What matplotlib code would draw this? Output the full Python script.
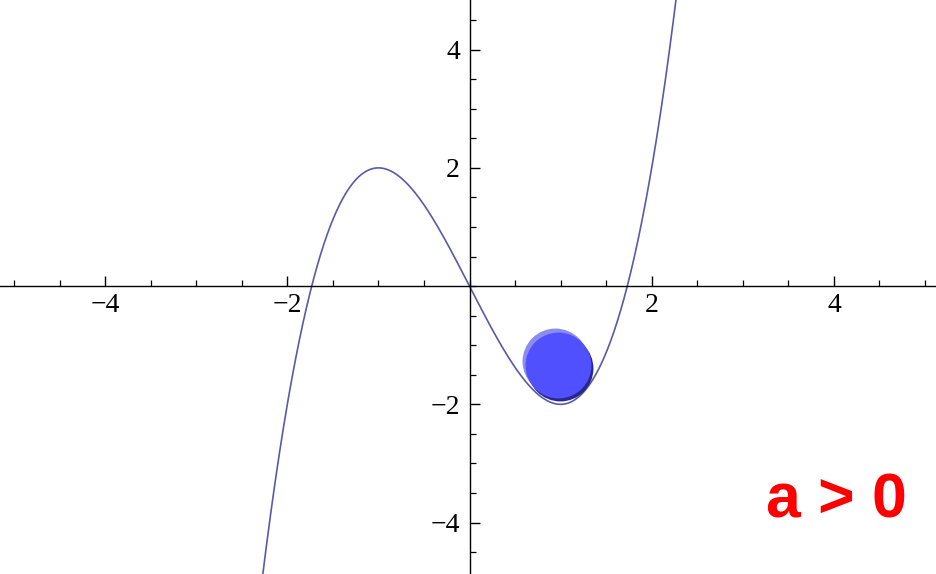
import numpy as np
import matplotlib
matplotlib.use("Agg")
import matplotlib.pyplot as plt
import matplotlib.transforms as mtransforms
from matplotlib.ticker import MultipleLocator, FixedLocator

# Data
poly_coeffs = [1.0, 0.0, -3.0, 0.0]   # y = x^3 - 3x
x_range = (-5.154, 5.132)
y_range = (-4.87, 4.84)
x_major = [-4, -2, 2, 4]
y_major = [-4, -2, 2, 4]
x_ticklabels = ["\u22124", "\u22122", "2", "4"]
y_ticklabels = ["\u22124", "\u22122", "2", "4"]
ball_x = 0.97
ball_y = -1.34
label_text = "a > 0"

fig = plt.figure(figsize=(9.37, 5.74), dpi=100)
ax = fig.add_axes([0, 0, 1, 1])

xs = np.linspace(x_range[0], x_range[1], 2000)
ys = np.polyval(poly_coeffs, xs)
ax.plot(xs, ys, color="#5a5aa6", lw=1.2, zorder=2, clip_on=True)

ax.set_xlim(*x_range)
ax.set_ylim(*y_range)

for s in ["top", "right"]:
    ax.spines[s].set_visible(False)
ax.spines["left"].set_position(("data", 0))
ax.spines["bottom"].set_position(("data", 0))
for s in ["left", "bottom"]:
    ax.spines[s].set_linewidth(1.0)
    ax.spines[s].set_color("black")

ax.xaxis.set_major_locator(FixedLocator(x_major))
ax.yaxis.set_major_locator(FixedLocator(y_major))
ax.set_xticklabels(x_ticklabels)
ax.set_yticklabels(y_ticklabels)
ax.xaxis.set_minor_locator(MultipleLocator(0.5))
ax.yaxis.set_minor_locator(MultipleLocator(0.5))

ax.tick_params(axis="both", which="major", direction="in", length=7, width=1.0,
               labelsize=20, colors="black")
ax.tick_params(axis="both", which="minor", direction="in", length=4.5, width=0.9)
ax.tick_params(axis="x", which="major", pad=5)
ax.tick_params(axis="y", which="major", pad=7)
for lab in ax.get_xticklabels() + ax.get_yticklabels():
    lab.set_fontfamily("Liberation Serif")

# Ball: highlight, shadow, body
s_ball = 2250
hl = ax.transData + mtransforms.ScaledTranslation(-3/100, 4/100, fig.dpi_scale_trans)
sh = ax.transData + mtransforms.ScaledTranslation(2/100, -3/100, fig.dpi_scale_trans)
ax.scatter([ball_x], [ball_y], s=s_ball, color="#8c8cf0", linewidths=0, transform=hl, zorder=3)
ax.scatter([ball_x], [ball_y], s=s_ball, color="#28288c", linewidths=0, transform=sh, zorder=3)
ax.scatter([ball_x], [ball_y], s=s_ball, color="#5050ff", linewidths=0, zorder=4)

fig.text(0.893, 0.099, label_text, color="#ff0000", fontsize=45, fontweight="bold",
         family="Liberation Sans", ha="center", va="baseline")

fig.savefig("out.png", dpi=100)
